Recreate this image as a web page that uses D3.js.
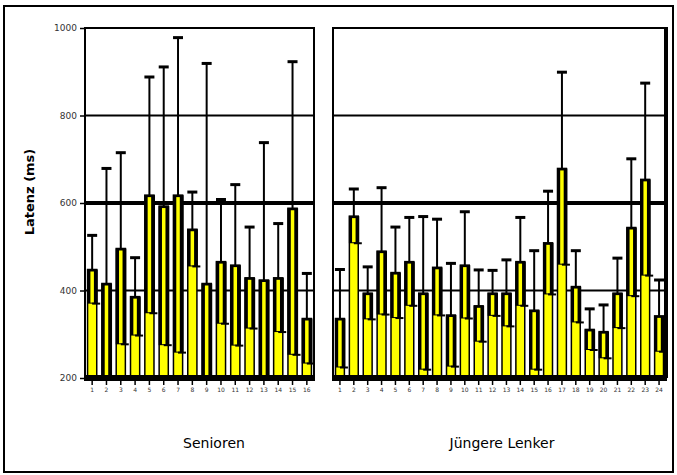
<!DOCTYPE html>
<meta charset="utf-8">
<style>
body { margin: 0; background: #fff; }
text { font-family: "DejaVu Sans", sans-serif; }
.tick line { stroke: #000; stroke-width: 1.5; }
</style>
<body>
<svg width="677" height="475"></svg>
<script src="https://cdn.jsdelivr.net/npm/d3@7/dist/d3.min.js"></script>
<script>
// Senioren
var seniorenCats = ["1","2","3","4","5","6","7","8","9","10","11","12","13","14","15","16"];
var seniorenMean = [448, 416, 496, 386, 618, 593, 618, 540, 416, 466, 458, 429, 424, 429, 588, 336];
var seniorenSD   = [78, 263, 219, 89, 270, 318, 360, 85, 503, 142, 184, 116, 314, 124, 335, 103];

// Juengere Lenker
var jungCats = ["1","2","3","4","5","6","7","8","9","10","11","12","13","14","15","16","17","18","19","20","21","22","23","24"];
var jungMean = [336, 570, 394, 490, 441, 466, 394, 453, 344, 458, 365, 394, 394, 466, 355, 509, 679, 409, 311, 306, 394, 544, 654, 342];
var jungSD   = [112, 62, 60, 145, 104, 101, 175, 110, 118, 122, 82, 52, 76, 101, 136, 118, 220, 82, 47, 61, 80, 157, 220, 82];

var yTicks = [200, 400, 600, 800, 1000];

var svg = d3.select("svg");

// outer frame
svg.append("rect")
    .attr("x", 4).attr("y", 6)
    .attr("width", 669).attr("height", 466)
    .attr("fill", "none")
    .attr("stroke", "#000")
    .attr("stroke-width", 2);

var y = d3.scaleLinear().domain([200, 1000]).range([378, 28]);

var panels = [
  {title: "Senioren", cats: seniorenCats, mean: seniorenMean, sd: seniorenSD, x0: 85, x1: 314, tx: 214, rw: 2, yaxis: true},
  {title: "Jüngere Lenker", cats: jungCats, mean: jungMean, sd: jungSD, x0: 333, x1: 666, tx: 502, rw: 4, yaxis: false}
];

panels.forEach(function(p) {
  var x = d3.scaleBand().domain(p.cats).range([p.x0, p.x1]).paddingInner(0.36).paddingOuter(0.18);
  var bw = x.bandwidth();
  var g = svg.append("g");

  // gridlines
  yTicks.forEach(function(t) {
    if (t == 200) return;
    g.append("line")
        .attr("x1", p.x0).attr("x2", p.x1)
        .attr("y1", y(t)).attr("y2", y(t))
        .attr("stroke", "#000")
        .attr("stroke-width", t == 600 ? 4 : 2);
  });

  // panel sides
  g.append("line").attr("x1", p.x0).attr("x2", p.x0).attr("y1", y(1000) - 1).attr("y2", y(200))
      .attr("stroke", "#000").attr("stroke-width", 2);
  g.append("line").attr("x1", p.x1).attr("x2", p.x1).attr("y1", y(1000) - 1).attr("y2", y(200))
      .attr("stroke", "#000").attr("stroke-width", p.rw);

  if (p.yaxis) {
    var ya = g.append("g")
        .attr("transform", "translate(" + p.x0 + ",0)")
        .call(d3.axisLeft(y).tickValues(yTicks).tickFormat(d3.format("d")).tickSize(5).tickPadding(3));
    ya.select(".domain").remove();
    ya.selectAll("text").style("font-size", "9px").attr("fill", "#333");
  }

  var data = p.cats.map(function(c, i) { return {c: c, m: p.mean[i], s: p.sd[i]}; });

  // whiskers
  g.selectAll(".whisk").data(data).enter().append("line")
      .attr("x1", function(d) { return x(d.c) + bw / 2; })
      .attr("x2", function(d) { return x(d.c) + bw / 2; })
      .attr("y1", function(d) { return y(d.m); })
      .attr("y2", function(d) { return y(d.m + d.s); })
      .attr("stroke", "#000").attr("stroke-width", 2);
  g.selectAll(".cap").data(data).enter().append("line")
      .attr("x1", function(d) { return x(d.c) + bw / 2 - 5; })
      .attr("x2", function(d) { return x(d.c) + bw / 2 + 5; })
      .attr("y1", function(d) { return y(d.m + d.s); })
      .attr("y2", function(d) { return y(d.m + d.s); })
      .attr("stroke", "#000").attr("stroke-width", 3);

  // bars
  g.selectAll(".bar").data(data).enter().append("rect")
      .attr("x", function(d) { return x(d.c); })
      .attr("y", function(d) { return y(d.m); })
      .attr("width", bw)
      .attr("height", function(d) { return y(200) - y(d.m); })
      .attr("fill", "#ffff00")
      .attr("stroke", "#000").attr("stroke-width", 1.5);

  // lower half of error bar drawn over the bar
  function lo(d) { return Math.max(200, d.m - d.s); }
  g.selectAll(".err").data(data).enter().append("rect")
      .attr("x", function(d) { return x(d.c) - 0.5; })
      .attr("y", function(d) { return y(d.m); })
      .attr("width", bw + 1.5)
      .attr("height", function(d) { return y(lo(d)) - y(d.m); })
      .attr("fill", "#000");
  g.selectAll(".stripe").data(data).enter().append("rect")
      .attr("x", function(d) { return x(d.c) + bw / 2 - 1.75; })
      .attr("y", function(d) { return y(d.m) + 2; })
      .attr("width", 3.5)
      .attr("height", function(d) { return Math.max(0, y(lo(d)) - y(d.m) - 3); })
      .attr("fill", "#ffff00");
  g.selectAll(".lcap").data(data.filter(function(d) { return d.m - d.s > 200; })).enter().append("line")
      .attr("x1", function(d) { return x(d.c) + bw / 2; })
      .attr("x2", function(d) { return x(d.c) + bw / 2 + 8; })
      .attr("y1", function(d) { return y(lo(d)); })
      .attr("y2", function(d) { return y(lo(d)); })
      .attr("stroke", "#000").attr("stroke-width", 2);

  // baseline
  g.append("line")
      .attr("x1", p.x0 - 1).attr("x2", p.x1 + 1)
      .attr("y1", y(200)).attr("y2", y(200))
      .attr("stroke", "#000").attr("stroke-width", 6);

  var xa = g.append("g")
      .attr("transform", "translate(0," + (y(200) + 2) + ")")
      .call(d3.axisBottom(x).tickSize(5).tickPadding(3));
  xa.select(".domain").remove();
  xa.selectAll("text").style("font-size", "6px").attr("fill", "#333");

  svg.append("text")
      .attr("x", p.tx).attr("y", 448)
      .attr("text-anchor", "middle")
      .style("font-size", "14px")
      .text(p.title);
});

svg.append("text")
    .attr("transform", "translate(34,192) rotate(-90)")
    .attr("text-anchor", "middle")
    .style("font-size", "13px")
    .style("font-weight", "bold")
    .text("Latenz (ms)");
</script>
</body>
